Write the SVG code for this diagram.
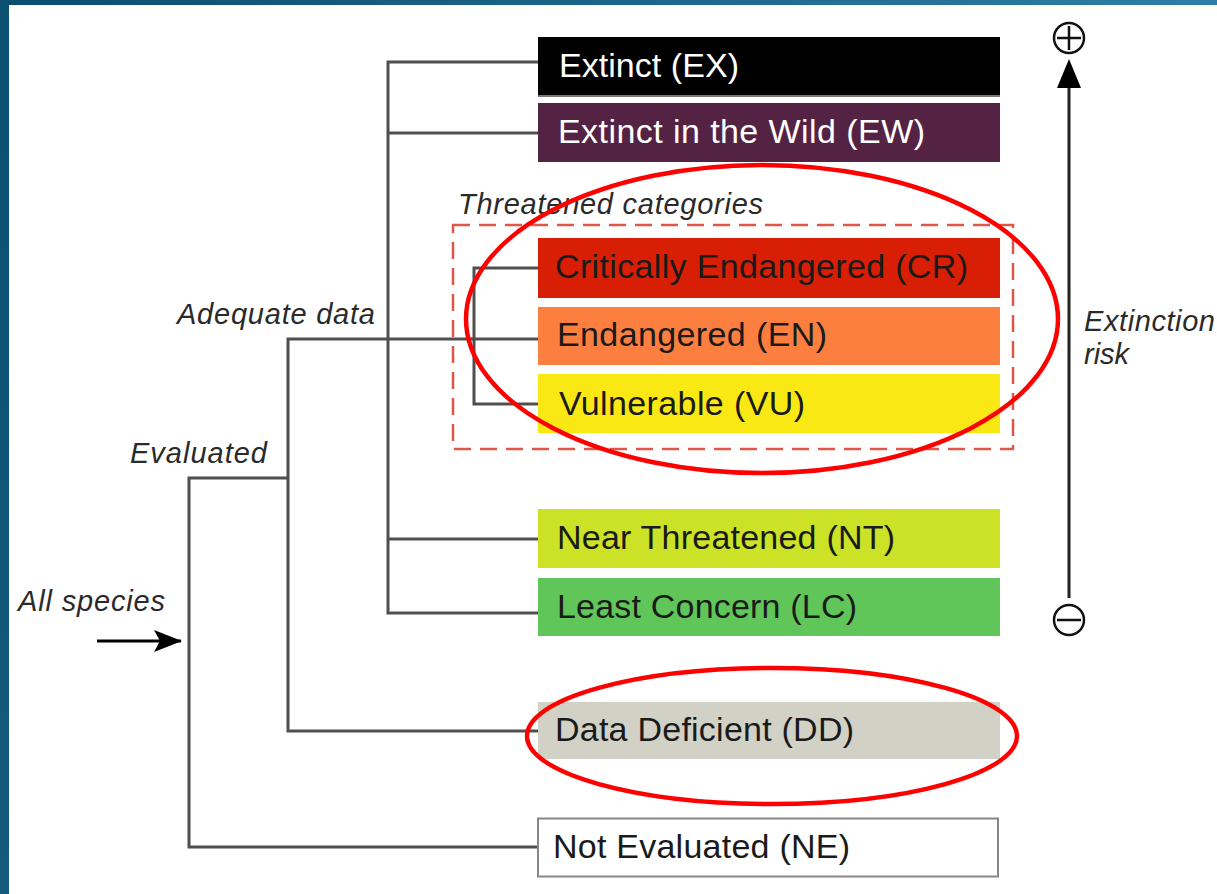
<svg xmlns="http://www.w3.org/2000/svg" width="1217" height="894" viewBox="0 0 1217 894">
<defs>
<linearGradient id="topbar" x1="0" y1="0" x2="1" y2="0">
<stop offset="0" stop-color="#0a4d6e"/>
<stop offset="1" stop-color="#2f7ea7"/>
</linearGradient>
<linearGradient id="leftbar" x1="0" y1="0" x2="0" y2="1">
<stop offset="0" stop-color="#0b4f71"/>
<stop offset="1" stop-color="#145b7c"/>
</linearGradient>
<marker id="arrowSmall" viewBox="0 0 28 24" refX="27" refY="12" markerWidth="28" markerHeight="24" markerUnits="userSpaceOnUse" orient="auto">
<path d="M0,1 L28,12 L0,23 L6,12 Z" fill="#000"/>
</marker>
</defs>
<style>
.box{stroke:none}
.lbl{font-family:"Liberation Sans",Arial,sans-serif;font-size:34px;fill:#1a1a1a}
.lblw{fill:#ffffff}
.ital{font-family:"Liberation Sans",Arial,sans-serif;font-size:29px;font-style:italic;fill:#2a2a2a}
.conn{fill:none;stroke:#4f4f4f;stroke-width:3}
.hl{fill:none;stroke:#ff0000;stroke-width:4.5}
.sym{fill:none;stroke:#111;stroke-width:2.5}
</style>
<rect x="0" y="0" width="1217" height="894" fill="#ffffff"/>
<rect x="0" y="0" width="1217" height="5" fill="url(#topbar)"/>
<rect x="0" y="0" width="9" height="894" fill="url(#leftbar)"/>

<g id="connectors">
<path class="conn" d="M538,62 H388 V613 H538"/>
<path class="conn" d="M388,133 H538"/>
<path class="conn" d="M388,539 H538"/>
<path class="conn" d="M538,339 H288 V731 H538"/>
<path class="conn" d="M538,268 H474 V404 H538"/>
<path class="conn" d="M288,478 H189 V847 H538"/>
<line x1="97" y1="641" x2="181" y2="641" stroke="#000" stroke-width="3" marker-end="url(#arrowSmall)"/>
</g>

<g id="threatened-group">
<rect x="453" y="225" width="560" height="224" fill="none" stroke="#e0574a" stroke-width="2.5" stroke-dasharray="17 9"/>
<text class="ital" x="458" y="214" textLength="305">Threatened categories</text>
</g>

<g id="ex"><rect class="box" x="538" y="37" width="462" height="58" fill="#000000"/><rect x="538" y="95" width="462" height="2" fill="#777"/><text class="lbl lblw" x="559" y="77" textLength="180">Extinct (EX)</text></g>
<g id="ew"><rect class="box" x="538" y="103" width="462" height="59" fill="#542344"/><text class="lbl lblw" x="558" y="143" textLength="367">Extinct in the Wild (EW)</text></g>
<g id="cr"><rect class="box" x="538" y="238" width="462" height="60" fill="#d81e05"/><text class="lbl" x="555" y="278" textLength="413">Critically Endangered (CR)</text></g>
<g id="en"><rect class="box" x="538" y="307" width="462" height="58" fill="#fc7f3f"/><text class="lbl" x="557" y="346" textLength="270">Endangered (EN)</text></g>
<g id="vu"><rect class="box" x="538" y="374" width="462" height="59" fill="#f9e814"/><text class="lbl" x="559" y="415" textLength="246">Vulnerable (VU)</text></g>
<g id="nt"><rect class="box" x="538" y="509" width="462" height="59" fill="#cce226"/><text class="lbl" x="557" y="549" textLength="338">Near Threatened (NT)</text></g>
<g id="lc"><rect class="box" x="538" y="578" width="462" height="58" fill="#60c659"/><text class="lbl" x="557" y="618" textLength="300">Least Concern (LC)</text></g>
<g id="dd"><rect class="box" x="538" y="702" width="462" height="57" fill="#d1d1c6"/><text class="lbl" x="555" y="741" textLength="299">Data Deficient (DD)</text></g>
<g id="ne"><rect x="538" y="818.5" width="460" height="58" fill="#ffffff" stroke="#888" stroke-width="2"/><text class="lbl" x="553" y="858" textLength="297">Not Evaluated (NE)</text></g>

<g id="labels">
<text class="ital" x="177" y="324" textLength="198">Adequate data</text>
<text class="ital" x="130" y="463" textLength="137">Evaluated</text>
<text class="ital" x="18" y="611" textLength="147">All species</text>
<text class="ital" x="1084" y="331" textLength="131">Extinction</text>
<text class="ital" x="1084" y="364">risk</text>
</g>

<g id="risk-axis">
<line x1="1069" y1="84" x2="1069" y2="598" stroke="#222" stroke-width="3"/>
<path d="M1069,59 L1081,88 L1057,88 Z" fill="#000"/>
<circle class="sym" cx="1069" cy="38" r="15"/>
<path class="sym" d="M1057,38 H1081 M1069,26 V50"/>
<circle class="sym" cx="1069" cy="620" r="15"/>
<path class="sym" d="M1057,620 H1081"/>
</g>

<g id="highlights">
<ellipse class="hl" cx="762" cy="319" rx="296" ry="154"/>
<ellipse class="hl" cx="772" cy="736" rx="245" ry="68"/>
</g>
</svg>
